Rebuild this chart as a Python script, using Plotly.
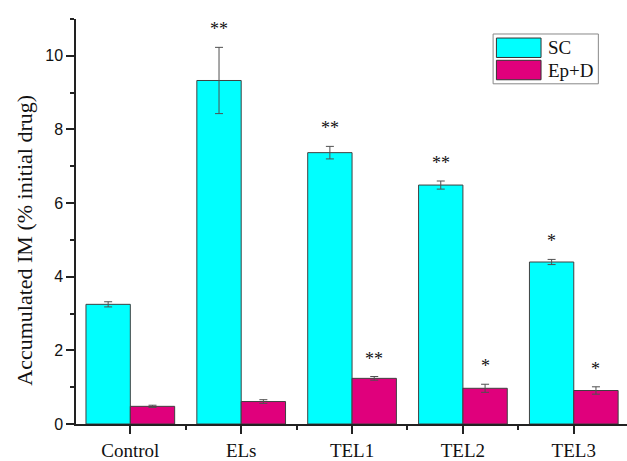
import plotly.graph_objects as go

# Formulation groups and accumulated IM (% of initial drug), mean and error
groups = ["Control", "ELs", "TEL1", "TEL2", "TEL3"]
sc_mean = [3.25, 9.33, 7.37, 6.49, 4.40]
sc_err = [0.07, 0.90, 0.17, 0.11, 0.07]
epd_mean = [0.48, 0.61, 1.24, 0.97, 0.91]
epd_err = [0.03, 0.05, 0.05, 0.11, 0.10]
sc_sig = ["", "**", "**", "**", "*"]
epd_sig = ["", "", "**", "*", "*"]

SERIF = "Liberation Serif"
SANS = "Liberation Sans"
CYAN = "#00FFFF"
MAGENTA = "#E0007C"
AXIS = "#222222"

xpos = list(range(len(groups)))

fig = go.Figure()
fig.add_trace(go.Bar(
    x=xpos, y=sc_mean, name="SC", marker_color=CYAN,
    marker_line=dict(color="#404040", width=1),
    error_y=dict(type="data", array=sc_err, color="#505050", thickness=1, width=4),
))
fig.add_trace(go.Bar(
    x=xpos, y=epd_mean, name="Ep+D", marker_color=MAGENTA,
    marker_line=dict(color="#404040", width=1),
    error_y=dict(type="data", array=epd_err, color="#505050", thickness=1, width=4),
))

# Significance marks above each error bar
annotations = []
for i, (m, e, s) in enumerate(zip(sc_mean, sc_err, sc_sig)):
    if s:
        annotations.append(dict(x=i - 0.2, y=m + e, text=s, showarrow=False,
                                yanchor="bottom", yshift=6,
                                font=dict(family=SERIF, size=18, color="#111")))
for i, (m, e, s) in enumerate(zip(epd_mean, epd_err, epd_sig)):
    if s:
        annotations.append(dict(x=i + 0.2, y=m + e, text=s, showarrow=False,
                                yanchor="bottom", yshift=6,
                                font=dict(family=SERIF, size=18, color="#111")))

# Y-axis title, placed slightly below the plot's vertical centre
annotations.append(dict(xref="paper", yref="paper", x=-0.094, y=0.453,
                        text="Accumulated IM (% initial drug)", textangle=-90,
                        showarrow=False, xanchor="center", yanchor="middle",
                        font=dict(family=SERIF, size=22, color="#111")))

# Boxed legend drawn by hand
shapes = [
    dict(type="rect", xref="paper", yref="paper", x0=0.757, x1=0.948, y0=0.84, y1=0.963,
         line=dict(color="#888888", width=1), fillcolor="white"),
    dict(type="rect", xref="paper", yref="paper", x0=0.763, x1=0.844, y0=0.905, y1=0.953,
         line=dict(color="#333", width=1), fillcolor=CYAN),
    dict(type="rect", xref="paper", yref="paper", x0=0.763, x1=0.844, y0=0.85, y1=0.898,
         line=dict(color="#333", width=1), fillcolor=MAGENTA),
]
annotations += [
    dict(xref="paper", yref="paper", x=0.853, y=0.929, text="SC", showarrow=False,
         xanchor="left", yanchor="middle", font=dict(family=SERIF, size=19, color="#111")),
    dict(xref="paper", yref="paper", x=0.853, y=0.874, text="Ep+D", showarrow=False,
         xanchor="left", yanchor="middle", font=dict(family=SERIF, size=19, color="#111")),
]

fig.update_layout(
    width=627, height=461,
    margin=dict(l=76, r=0, t=19, b=34),
    paper_bgcolor="white", plot_bgcolor="white",
    barmode="group", bargap=0.2, bargroupgap=0,
    showlegend=False,
    annotations=annotations, shapes=shapes,
    xaxis=dict(
        range=[-0.49, 4.48], tickmode="array", tickvals=xpos, ticktext=groups,
        showgrid=False, zeroline=False,
        showline=True, linecolor=AXIS, linewidth=1.5,
        ticks="outside", ticklen=8, tickwidth=1.5, tickcolor=AXIS,
        tickfont=dict(family=SERIF, size=19, color="#111"),
        minor=dict(tickmode="array", tickvals=[0.5, 1.5, 2.5, 3.5],
                   ticks="outside", ticklen=4, tickwidth=1.5, tickcolor=AXIS),
    ),
    yaxis=dict(
        range=[0, 11], tickmode="linear", tick0=0, dtick=2,
        showgrid=False, zeroline=False,
        showline=True, linecolor=AXIS, linewidth=1.5,
        ticks="outside", ticklen=8, tickwidth=1.5, tickcolor=AXIS,
        tickfont=dict(family=SANS, size=16, color="#111"),
        minor=dict(tickmode="linear", tick0=1, dtick=2,
                   ticks="outside", ticklen=4, tickwidth=1.5, tickcolor=AXIS),
    ),
)

fig.write_html("out.html")
